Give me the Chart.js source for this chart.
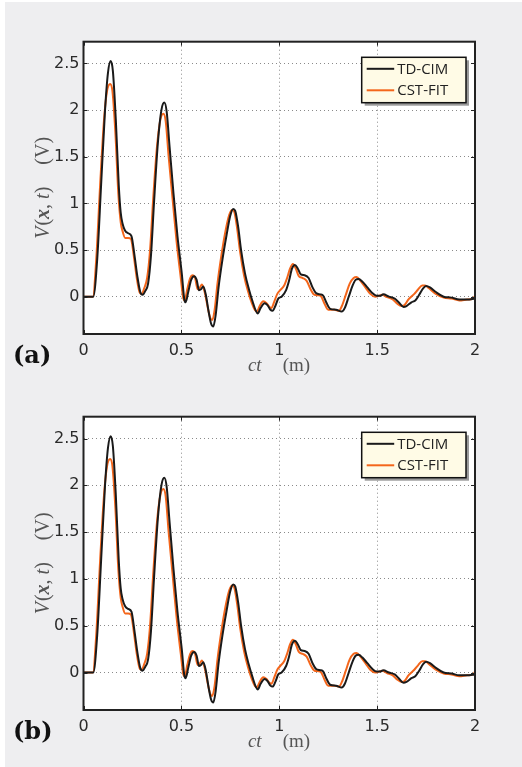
<!DOCTYPE html>
<html>
<head>
<meta charset="utf-8">
<script src="https://cdn.jsdelivr.net/npm/chart.js@4"></script>
<style>
  html, body { margin:0; padding:0; background:#eeeef0; width:522px; height:767px; overflow:hidden; }
  #wl { position:absolute; left:0; top:0; width:5px; height:767px; background:#fff; }
  #wt { position:absolute; left:0; top:0; width:522px; height:2px; background:#fff; }
  canvas { position:absolute; left:0; }
</style>
</head>
<body>
<div id="wl"></div><div id="wt"></div>
<canvas id="ca" width="522" height="380" style="top:0px"></canvas>
<canvas id="cb" width="522" height="381" style="top:375px"></canvas>
<script>
// ---------- data ----------
const seriesNames = ["TD-CIM", "CST-FIT"];
const ctTD = [0,0.05,0.07,0.09,0.11,0.125,0.139,0.15,0.165,0.18,0.19,0.2,0.212,0.228,0.245,0.26,0.275,0.29,0.302,0.315,0.33,0.345,0.36,0.38,0.398,0.413,0.425,0.44,0.46,0.48,0.502,0.515,0.522,0.535,0.55,0.565,0.578,0.59,0.6,0.612,0.625,0.64,0.652,0.663,0.675,0.69,0.71,0.73,0.75,0.765,0.775,0.79,0.805,0.825,0.845,0.865,0.88,0.89,0.905,0.925,0.94,0.955,0.966,0.98,0.995,1.012,1.035,1.05,1.065,1.08,1.095,1.11,1.13,1.15,1.17,1.19,1.21,1.225,1.24,1.26,1.29,1.319,1.335,1.355,1.375,1.39,1.405,1.425,1.45,1.475,1.498,1.515,1.532,1.56,1.59,1.61,1.635,1.65,1.675,1.695,1.715,1.735,1.75,1.77,1.8,1.84,1.88,1.92,1.96,2.0];
const vTD = [0,0,0.4,1.2,2.0,2.4,2.525,2.42,1.9,1.2,0.9,0.78,0.71,0.68,0.65,0.45,0.22,0.05,0.02,0.06,0.14,0.45,1.0,1.65,2.0,2.08,1.98,1.6,1.1,0.65,0.25,-0.03,-0.06,0.05,0.18,0.22,0.18,0.07,0.08,0.11,0.02,-0.17,-0.29,-0.32,-0.2,0.1,0.4,0.65,0.87,0.94,0.92,0.75,0.5,0.25,0.08,-0.06,-0.15,-0.18,-0.12,-0.07,-0.09,-0.14,-0.15,-0.1,-0.02,0.0,0.07,0.17,0.3,0.34,0.3,0.24,0.23,0.2,0.1,0.035,0.025,0.01,-0.06,-0.13,-0.14,-0.16,-0.12,0.0,0.12,0.18,0.19,0.16,0.1,0.04,0.01,0.01,0.025,0.0,-0.02,-0.06,-0.11,-0.1,-0.06,-0.04,0.02,0.09,0.115,0.1,0.05,0.0,-0.01,-0.03,-0.03,-0.02];
const ctCST = [0,0.048,0.065,0.085,0.105,0.12,0.136,0.148,0.163,0.178,0.19,0.2,0.213,0.228,0.242,0.258,0.272,0.288,0.298,0.31,0.325,0.34,0.356,0.375,0.393,0.408,0.42,0.435,0.455,0.475,0.497,0.51,0.517,0.53,0.545,0.557,0.57,0.583,0.595,0.605,0.62,0.635,0.648,0.658,0.67,0.685,0.705,0.725,0.745,0.76,0.77,0.785,0.8,0.82,0.84,0.86,0.875,0.885,0.9,0.918,0.935,0.95,0.96,0.975,0.99,1.005,1.025,1.04,1.055,1.07,1.085,1.1,1.12,1.14,1.16,1.18,1.2,1.215,1.23,1.25,1.28,1.305,1.32,1.34,1.36,1.38,1.395,1.415,1.44,1.465,1.49,1.51,1.525,1.55,1.58,1.6,1.625,1.64,1.66,1.69,1.71,1.73,1.745,1.765,1.8,1.84,1.88,1.92,1.96,1.99,2.0];
const vCST = [0,0,0.4,1.2,1.9,2.2,2.28,2.2,1.75,1.1,0.8,0.7,0.63,0.63,0.62,0.42,0.2,0.04,0.03,0.09,0.2,0.5,1.05,1.6,1.9,1.96,1.88,1.5,1.05,0.6,0.2,-0.02,-0.04,0.08,0.2,0.23,0.2,0.08,0.1,0.13,0.04,-0.12,-0.23,-0.25,-0.14,0.15,0.45,0.7,0.88,0.93,0.91,0.73,0.48,0.23,0.06,-0.07,-0.14,-0.16,-0.1,-0.05,-0.07,-0.11,-0.12,-0.05,0.03,0.07,0.12,0.2,0.3,0.35,0.3,0.22,0.2,0.17,0.08,0.02,0.015,0.0,-0.07,-0.14,-0.14,-0.15,-0.1,0.02,0.14,0.2,0.21,0.17,0.1,0.03,0.0,0.01,0.02,-0.005,-0.03,-0.07,-0.1,-0.09,-0.03,0.03,0.08,0.12,0.12,0.09,0.03,-0.01,-0.02,-0.04,-0.03,-0.02,0.01];
const xTicks = [0, 0.5, 1, 1.5, 2];
const yTicks = [0, 0.5, 1, 1.5, 2, 2.5];
const panelLabels = ["(a)", "(b)"];

// ---------- drawing ----------
const tickFont = { family: "'DejaVu Sans', sans-serif", size: 16 };
const serif = "'Liberation Serif', 'DejaVu Serif', serif";

function drawPieces(ctx, pieces, cx, cy) {
  let total = 0;
  pieces.forEach(p => { ctx.font = p.f; p.w = ctx.measureText(p.t).width; total += p.w + (p.gap || 0); });
  let x = cx - total / 2;
  pieces.forEach(p => { ctx.font = p.f; ctx.fillText(p.t, x, cy); x += p.w + (p.gap || 0); });
}

const decor = {
  id: 'decor',
  beforeDraw(chart) {
    const { ctx, chartArea: a } = chart;
    ctx.save();
    ctx.fillStyle = '#ffffff';
    ctx.fillRect(a.left, a.top, a.right - a.left, a.bottom - a.top);
    ctx.restore();
  },
  afterDraw(chart, args, opts) {
    const { ctx, chartArea: a, scales } = chart;
    ctx.save();
    // inner tick marks
    ctx.strokeStyle = '#222';
    ctx.lineWidth = 1;
    xTicks.forEach(v => {
      const x = Math.round(scales.x.getPixelForValue(v)) + 0.5;
      ctx.beginPath(); ctx.moveTo(x, a.bottom); ctx.lineTo(x, a.bottom - 4); ctx.stroke();
      ctx.beginPath(); ctx.moveTo(x, a.top); ctx.lineTo(x, a.top + 4); ctx.stroke();
    });
    yTicks.forEach(v => {
      const y = Math.round(scales.y.getPixelForValue(v)) + 0.5;
      ctx.beginPath(); ctx.moveTo(a.left, y); ctx.lineTo(a.left + 4, y); ctx.stroke();
      ctx.beginPath(); ctx.moveTo(a.right, y); ctx.lineTo(a.right - 4, y); ctx.stroke();
    });
    // frame
    ctx.strokeStyle = '#222';
    ctx.lineWidth = 2;
    ctx.strokeRect(a.left, a.top, a.right - a.left, a.bottom - a.top);

    // legend
    const lx = 361.7, ly = a.top + 15.6, lw = 104.3, lh = 45.4;
    ctx.fillStyle = '#9a9a9a';
    ctx.fillRect(lx + 3, ly + 3, lw, lh);
    ctx.fillStyle = '#fffbe6';
    ctx.fillRect(lx, ly, lw, lh);
    ctx.lineWidth = 1.5;
    ctx.strokeStyle = '#111';
    ctx.strokeRect(lx, ly, lw, lh);
    ctx.font = "15px 'Open Sans', sans-serif";
    ctx.textBaseline = 'middle';
    ctx.textAlign = 'left';
    chart.data.datasets.forEach((ds, i) => {
      const yy = ly + 11.5 + i * 21.5;
      ctx.strokeStyle = ds.borderColor;
      ctx.lineWidth = 2;
      ctx.beginPath(); ctx.moveTo(lx + 5, yy); ctx.lineTo(lx + 32.5, yy); ctx.stroke();
      ctx.fillStyle = '#222';
      ctx.fillText(ds.label, lx + 35.5, yy + 0.5);
    });

    // x title
    ctx.fillStyle = '#555';
    ctx.textBaseline = 'alphabetic';
    drawPieces(ctx, [
      { t: 'ct', f: `italic 19px ${serif}`, gap: 21 },
      { t: '(m)', f: `19px ${serif}` }
    ], 279, a.bottom + 37);

    // y title
    ctx.save();
    ctx.translate(49, (a.top + a.bottom) / 2);
    ctx.rotate(-Math.PI / 2);
    drawPieces(ctx, [
      { t: 'V', f: `italic 20px ${serif}`, gap: 1 },
      { t: '(', f: `20px ${serif}` },
      { t: 'x', f: `italic bold 20px ${serif}` },
      { t: ', ', f: `20px ${serif}` },
      { t: 't', f: `italic 20px ${serif}` },
      { t: ')', f: `20px ${serif}`, gap: 22 },
      { t: '(V)', f: `20px ${serif}` }
    ], 0, 0);
    ctx.restore();

    // panel label
    ctx.fillStyle = '#111';
    ctx.font = `bold 24px 'DejaVu Serif', serif`;
    ctx.textAlign = 'left';
    ctx.fillText(opts.label, 13, a.bottom + 29);
    ctx.restore();
  }
};

function toPts(xs, ys) { return xs.map((x, i) => ({ x: x, y: ys[i] })); }

function makeChart(id, label) {
  return new Chart(document.getElementById(id), {
    type: 'line',
    data: {
      datasets: [
        { label: seriesNames[0], data: toPts(ctTD, vTD), borderColor: '#1a1a1a', borderWidth: 2, pointRadius: 0, cubicInterpolationMode: 'monotone', fill: false },
        { label: seriesNames[1], data: toPts(ctCST, vCST), borderColor: '#f4661b', borderWidth: 2, pointRadius: 0, cubicInterpolationMode: 'monotone', fill: false }
      ]
    },
    options: {
      responsive: false,
      animation: false,
      events: [],
      layout: { padding: { top: 41.7, right: 47, left: 0, bottom: 0 } },
      plugins: { legend: { display: false }, tooltip: { enabled: false }, decor: { label: label } },
      scales: {
        x: {
          type: 'linear', min: 0, max: 2,
          afterBuildTicks: s => { s.ticks = xTicks.map(v => ({ value: v })); },
          afterFit: s => { s.height = 46; },
          ticks: { font: tickFont, color: '#2a2a2a', padding: 7, maxRotation: 0, callback: v => String(v) },
          grid: { color: '#8a8a8a', lineWidth: 1, drawTicks: false },
          border: { display: false, dash: [1, 3] }
        },
        y: {
          type: 'linear', min: -0.4, max: 2.733,
          afterBuildTicks: s => { s.ticks = yTicks.map(v => ({ value: v })); },
          afterFit: s => { s.width = 83.5; },
          ticks: { font: tickFont, color: '#2a2a2a', padding: 4, callback: v => String(v) },
          grid: { color: '#8a8a8a', lineWidth: 1, drawTicks: false },
          border: { display: false, dash: [1, 3] }
        }
      }
    },
    plugins: [decor]
  });
}

makeChart('ca', panelLabels[0]);
makeChart('cb', panelLabels[1]);
</script>
</body>
</html>
